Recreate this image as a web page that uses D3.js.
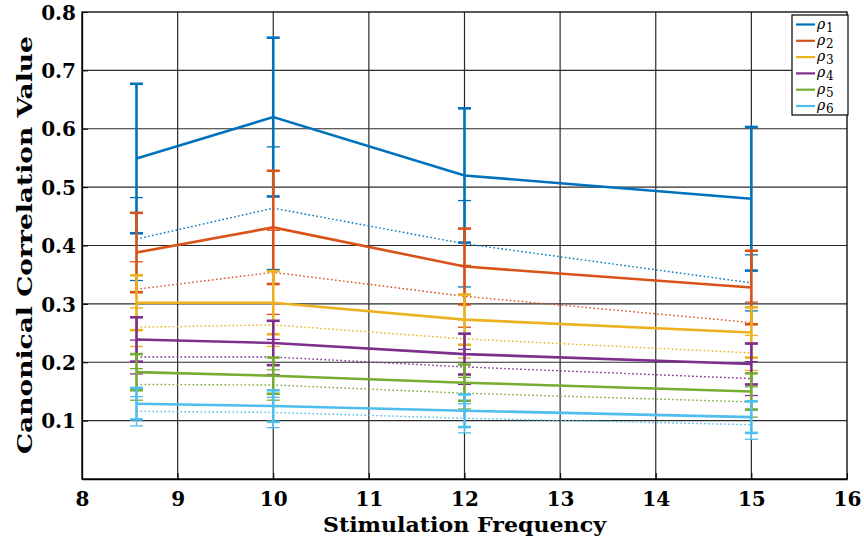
<!DOCTYPE html>
<html>
<head>
<meta charset="utf-8">
<script src="https://cdn.jsdelivr.net/npm/d3@7"></script>
<style>
  html, body { margin: 0; padding: 0; background: #fff; }
  svg { display: block; }
  text { font-family: "DejaVu Serif", "Liberation Serif", serif; fill: #000; }
  .bold { font-weight: bold; }
  .legend text { font-weight: normal; }
</style>
</head>
<body>
<svg id="chart" width="864" height="542"></svg>
<script>
// Stimulation frequencies (Hz)
const freqs = [8.57, 10, 12, 15];
const xTicks = [8, 9, 10, 11, 12, 13, 14, 15, 16];
const yTicks = [0.1, 0.2, 0.3, 0.4, 0.5, 0.6, 0.7, 0.8];

const seriesNames = ["1", "2", "3", "4", "5", "6"];
const seriesColors = ["#0072BD", "#D95319", "#EDB120", "#7E2F8E", "#77AC30", "#4DBEEE"];

// Mean canonical correlation per frequency, one row per coefficient (solid lines)
const meanA = [
  [0.549, 0.620, 0.520, 0.480],
  [0.388, 0.431, 0.364, 0.328],
  [0.302, 0.302, 0.273, 0.251],
  [0.239, 0.233, 0.214, 0.197],
  [0.183, 0.177, 0.165, 0.150],
  [0.129, 0.125, 0.117, 0.106]
];
const errA = [
  [0.128, 0.136, 0.115, 0.123],
  [0.068, 0.097, 0.065, 0.063],
  [0.047, 0.054, 0.043, 0.043],
  [0.038, 0.038, 0.035, 0.035],
  [0.031, 0.031, 0.031, 0.031],
  [0.027, 0.027, 0.028, 0.027]
];
// Second condition (dotted lines)
const meanB = [
  [0.411, 0.464, 0.403, 0.336],
  [0.325, 0.354, 0.313, 0.268],
  [0.260, 0.264, 0.240, 0.216],
  [0.209, 0.209, 0.192, 0.172],
  [0.162, 0.161, 0.147, 0.132],
  [0.116, 0.114, 0.104, 0.093]
];
const errB = [
  [0.071, 0.105, 0.074, 0.048],
  [0.047, 0.072, 0.053, 0.035],
  [0.033, 0.037, 0.033, 0.030],
  [0.029, 0.030, 0.030, 0.029],
  [0.027, 0.026, 0.027, 0.026],
  [0.025, 0.026, 0.025, 0.025]
];

const svg = d3.select("#chart");
const W = 864, H = 542;
const m = { left: 82, right: 17, top: 12, bottom: 63 };

const x = d3.scaleLinear().domain([8, 16]).range([m.left, W - m.right]);
const y = d3.scaleLinear().domain([0, 0.8]).range([H - m.bottom, m.top]);

// Grid
const grid = svg.append("g");
grid.selectAll("line.v").data(xTicks.slice(1, -1)).join("line")
  .attr("x1", d => x(d)).attr("x2", d => x(d))
  .attr("y1", y(0)).attr("y2", y(0.8))
  .attr("stroke", "#2b2b2b").attr("stroke-width", 1.2);
grid.selectAll("line.h").data(yTicks.slice(0, -1)).join("line")
  .attr("x1", x(8)).attr("x2", x(16))
  .attr("y1", d => y(d)).attr("y2", d => y(d))
  .attr("stroke", "#2b2b2b").attr("stroke-width", 1.2);

// Axes with inward ticks
const xAxis = svg.append("g").attr("transform", `translate(0,${y(0)})`)
  .call(d3.axisBottom(x).tickValues(xTicks).tickFormat(d3.format("d")).tickSizeInner(-6).tickSizeOuter(0).tickPadding(8));
const yAxis = svg.append("g").attr("transform", `translate(${x(8)},0)`)
  .call(d3.axisLeft(y).tickValues(yTicks).tickFormat(d3.format(".1f")).tickSizeInner(-6).tickSizeOuter(0).tickPadding(6));
[xAxis, yAxis].forEach(g => {
  g.select(".domain").attr("stroke", "#000").attr("stroke-width", 1.3);
  g.selectAll(".tick line").attr("stroke", "#000");
  g.selectAll("text").attr("font-size", 20).attr("font-family", "DejaVu Serif").attr("class", "bold");
});
xAxis.selectAll("text").attr("dy", "0.95em");
yAxis.selectAll("text").attr("dy", "0.36em");

// Box top / right
svg.append("rect")
  .attr("x", x(8)).attr("y", y(0.8))
  .attr("width", x(16) - x(8)).attr("height", y(0) - y(0.8))
  .attr("fill", "none").attr("stroke", "#000").attr("stroke-width", 1.3);

// Draws one errorbar series
function drawSeries(means, errs, color, solid) {
  const g = svg.append("g");
  const pts = freqs.map((f, i) => ({ f, v: means[i], e: errs[i] }));
  const capW = 6.5;
  const bw = solid ? 2.6 : 1.3;
  pts.forEach(p => {
    g.append("line")
      .attr("x1", x(p.f)).attr("x2", x(p.f))
      .attr("y1", y(p.v - p.e)).attr("y2", y(p.v + p.e))
      .attr("stroke", color).attr("stroke-width", bw);
    [p.v - p.e, p.v + p.e].forEach(c => {
      g.append("line")
        .attr("x1", x(p.f) - capW).attr("x2", x(p.f) + capW)
        .attr("y1", y(c)).attr("y2", y(c))
        .attr("stroke", color).attr("stroke-width", bw);
    });
  });
  g.append("path").datum(pts)
    .attr("d", d3.line().x(p => x(p.f)).y(p => y(p.v)))
    .attr("fill", "none").attr("stroke", color)
    .attr("stroke-width", solid ? 2.6 : 1.4)
    .attr("stroke-dasharray", solid ? null : "1.6,2.4");
}

meanB.forEach((s, i) => drawSeries(s, errB[i], seriesColors[i], false));
meanA.forEach((s, i) => drawSeries(s, errA[i], seriesColors[i], true));

// Axis titles
svg.append("text").attr("class", "bold")
  .attr("x", (x(8) + x(16)) / 2).attr("y", 532)
  .attr("text-anchor", "middle").attr("font-size", 21)
  .attr("textLength", 283).attr("lengthAdjust", "spacingAndGlyphs")
  .text("Stimulation Frequency");
svg.append("text").attr("class", "bold")
  .attr("transform", "translate(32,245) rotate(-90)")
  .attr("text-anchor", "middle").attr("font-size", 21)
  .attr("textLength", 418).attr("lengthAdjust", "spacingAndGlyphs")
  .text("Canonical Correlation Value");

// Legend
const lg = svg.append("g").attr("class", "legend");
lg.append("rect").attr("x", 792).attr("y", 15).attr("width", 56).attr("height", 100)
  .attr("fill", "#fff").attr("stroke", "#000").attr("stroke-width", 1.2);
seriesNames.forEach((n, i) => {
  const cy = 24.5 + i * 16.3;
  lg.append("line").attr("x1", 796).attr("x2", 815).attr("y1", cy).attr("y2", cy)
    .attr("stroke", seriesColors[i]).attr("stroke-width", 2.2);
  lg.append("text").attr("x", 817).attr("y", cy + 4)
    .attr("font-size", 14).attr("font-style", "italic").text("ρ");
  lg.append("text").attr("x", 826).attr("y", cy + 7)
    .attr("font-size", 12).text(n);
});
</script>
</body>
</html>
